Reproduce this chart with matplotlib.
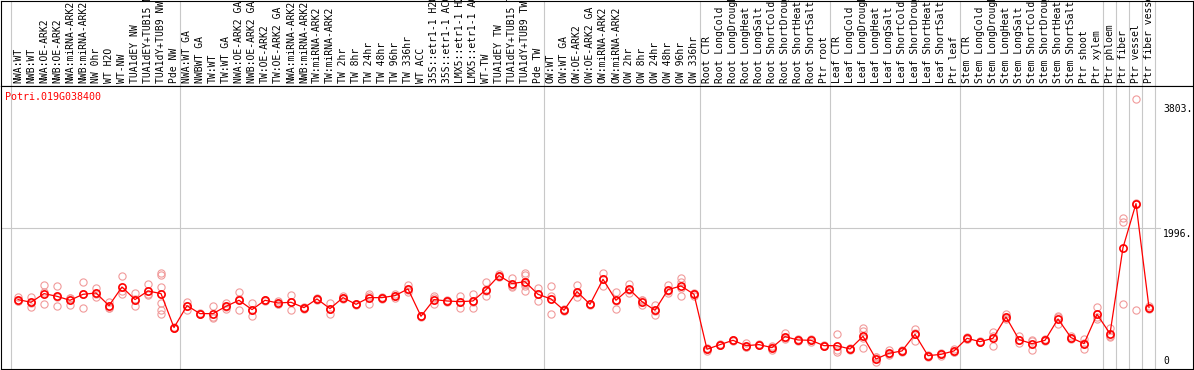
import matplotlib
matplotlib.use("Agg")
import matplotlib.pyplot as plt

GENE = "Potri.019G038400"

LABELS = [
    # nw
    "NWA:WT", "NWB:WT", "NWA:OE-ARK2", "NWB:OE-ARK2", "NWA:miRNA-ARK2",
    "NWB:miRNA-ARK2", "NW 0hr", "WT H2O", "WT-NW", "TUA1dEY NW",
    "TUA1dEY+TUB15 NW", "TUA1dY+TUB9 NW", "Pde NW",
    # tw
    "NWA:WT GA", "NWBWT GA", "TW:WT", "TW:WT GA", "NWA:OE-ARK2 GA",
    "NWB:OE-ARK2 GA", "TW:OE-ARK2", "TW:OE-ARK2 GA", "NWA:miRNA-ARK2",
    "NWB:miRNA-ARK2", "TW:miRNA-ARK2", "TW:miRNA-ARK2", "TW 2hr", "TW 8hr",
    "TW 24hr", "TW 48hr", "TW 96hr", "TW 336hr", "WT ACC", "35S::etr1-1 H2O",
    "35S::etr1-1 ACC", "LMX5::etr1-1 H2O", "LMX5::etr1-1 ACC", "WT-TW",
    "TUA1dEY TW", "TUA1dEY+TUB15 TW", "TUA1dY+TUB9 TW", "Pde TW",
    # ow
    "OW:WT", "OW:WT GA", "OW:OE-ARK2", "OW:OE-ARK2 GA", "OW:miRNA-ARK2",
    "OW:miRNA-ARK2", "OW 2hr", "OW 8hr", "OW 24hr", "OW 48hr", "OW 96hr",
    "OW 336hr",
    # root
    "Root CTR", "Root LongCold", "Root LongDrought", "Root LongHeat",
    "Root LongSalt", "Root ShortCold", "Root ShortDrought", "Root ShortHeat",
    "Root ShortSalt", "Ptr root",
    # leaf
    "Leaf CTR", "Leaf LongCold", "Leaf LongDrought", "Leaf LongHeat",
    "Leaf LongSalt", "Leaf ShortCold", "Leaf ShortDrought", "Leaf ShortHeat",
    "Leaf ShortSalt", "Ptr leaf",
    # stem
    "Stem CTR", "Stem LongCold", "Stem LongDrought", "Stem LongHeat",
    "Stem LongSalt", "Stem ShortCold", "Stem ShortDrought", "Stem ShortHeat",
    "Stem ShortSalt", "Ptr shoot", "Ptr xylem",
    "Ptr phloem", "Ptr fiber", "Ptr vessel", "Ptr fiber vessel",
]
GROUP_SIZES = [13, 28, 12, 10, 10, 11, 1, 1, 1, 1]

MEANS = [
    970, 931, 1056, 1017, 960, 1046, 1065, 883, 1151, 970, 1094, 1056, 567,
    883, 768, 768, 873, 960, 826, 960, 921, 931, 854, 979, 840, 998, 902,
    998, 998, 1027, 1123, 730, 970, 950, 940, 950, 1113, 1315, 1200, 1228,
    1046,
    979, 816, 1085, 902, 1262, 960, 1123, 940, 816, 1113, 1166, 1046,
    255, 322, 384, 307, 322, 279, 437, 389, 384, 307,
    307, 259, 442, 115, 197, 231, 470, 163, 182, 231,
    413, 365, 413, 720, 394, 336, 384, 691, 423, 336, 758,
    480, 1718, 2351, 855,
]

REPS = [
    [1010, 950, 950], [1007, 863, 923], [1176, 912, 1080], [1161, 883, 1007],
    [998, 892, 990], [1228, 854, 1056], [1132, 1007, 1056], [940, 855, 855],
    [1315, 1046, 1092], [1065, 873, 972], [1190, 1056, 1036],
    [1353, 1324, 1151, 921, 768, 820], [580, 555, 566],
    [940, 826, 883], [768, 760, 776], [883, 700, 721], [921, 835, 863],
    [1075, 826, 979], [921, 739, 818], [970, 950, 960], [950, 902, 911],
    [1036, 816, 941], [870, 840, 852], [1000, 960, 977], [921, 758, 841],
    [1020, 980, 994], [910, 895, 901], [1056, 912, 1026], [1010, 985, 999],
    [1056, 998, 1027], [1180, 1075, 1114], [740, 720, 730], [1017, 902, 991],
    [960, 940, 950], [1027, 854, 939], [1056, 854, 940], [1228, 1017, 1094],
    [1334, 1296, 1315], [1276, 1171, 1153],
    [1353, 1330, 1190, 1170, 1094, 1230], [1142, 950, 1046],
    [1161, 758, 1018], [830, 800, 818], [1180, 1007, 1068], [910, 890, 906],
    [1353, 1171, 1262], [1085, 840, 955], [1200, 1065, 1104], [970, 892, 958],
    [892, 748, 808], [1180, 1065, 1094], [1276, 1220, 1027, 1141],
    [1065, 1027, 1046],
    [270, 230, 265], [330, 315, 321], [395, 375, 382], [345, 290, 286],
    [330, 315, 321], [300, 250, 287], [489, 400, 422], [405, 375, 387],
    [410, 360, 382], [315, 300, 306],
    [470, 240, 211], [270, 250, 257], [557, 518, 279, 414], [140, 68, 137],
    [240, 185, 166], [250, 215, 228], [552, 374, 484], [175, 150, 164],
    [200, 160, 186], [260, 210, 223],
    [430, 400, 409], [375, 355, 365], [499, 298, 442], [768, 700, 692],
    [451, 345, 386], [384, 250, 374], [400, 370, 382], [720, 614, 739],
    [440, 405, 424], [403, 259, 346], [863, 691, 720],
    [567, 430, 443], [2149, 2092, 902], [3862, 826, 2365], [880, 835, 850],
]

Y_TICKS = [3803, 1996, 0]

W, H = 1194, 370
MONO = "DejaVu Sans Mono"
GRID = "#c8c8c8"


def box(x0, y0, x1, y1):
    # pixel box -> figure fraction
    return [x0 / W, 1 - y1 / H, (x1 - x0) / W, (y1 - y0) / H]


fig = plt.figure(figsize=(W / 100, H / 100), dpi=100)
head = fig.add_axes(box(1, 0.5, 1193, 85.5))
ax = fig.add_axes(box(1, 85.5, 1193, 368.5))

# column i centre sits at pixel 18 + 13*i
xlim = (-17 / 13, 1175 / 13)
k = 0.0695  # px per unit
ylim = ((367 - 368.5) / k, (367 - 85.5) / k)

for a in (head, ax):
    a.set_xlim(*xlim)
    a.set_xticks([])
    a.set_yticks([])
    for s in a.spines.values():
        s.set_linewidth(0.8)
        s.set_color("black")
head.set_ylim(0, 1)
ax.set_ylim(*ylim)

# group separators
bounds = [0]
for g in GROUP_SIZES:
    bounds.append(bounds[-1] + g)
for b in bounds:
    xs = b - 7 / 13
    head.axvline(xs, color=GRID, lw=0.8, zorder=0)
    ax.axvline(xs, color=GRID, lw=0.8, zorder=0)

ax.axhline(Y_TICKS[1], xmin=0, xmax=(1160 - 1) / 1192, color=GRID, lw=0.8, zorder=0)

# labels
for i, lab in enumerate(LABELS):
    head.text(i, 0.03, lab, rotation=90, ha="center", va="bottom",
              fontsize=7, family=MONO, transform=head.get_xaxis_transform())

# replicates
for i, reps in enumerate(REPS):
    ax.plot([i] * len(reps), reps, "o", ms=5.2, mfc="none", mec="#f19a9a",
            mew=0.8, zorder=2, clip_on=False)

x = list(range(len(MEANS)))
ax.plot(x, MEANS, "-", color="red", lw=0.9, zorder=3)
ax.plot(x, MEANS, "o", ms=5.2, mfc="none", mec="red", mew=1.2, zorder=4)

# y tick labels on the right
tr = ax.get_yaxis_transform()
for v in Y_TICKS:
    if v:
        ax.text((1163 - 1) / 1192, v - 15, f"{v}.", ha="left", va="top",
                fontsize=7, family=MONO, transform=tr)
    else:
        ax.text((1163 - 1) / 1192, v + 10, "0", ha="left", va="bottom",
                fontsize=7, family=MONO, transform=tr)

fig.text(5 / W, 1 - 97 / H, GENE, color="red", ha="left", va="center",
         fontsize=7.2, family=MONO)

fig.savefig("out.png", dpi=100)
